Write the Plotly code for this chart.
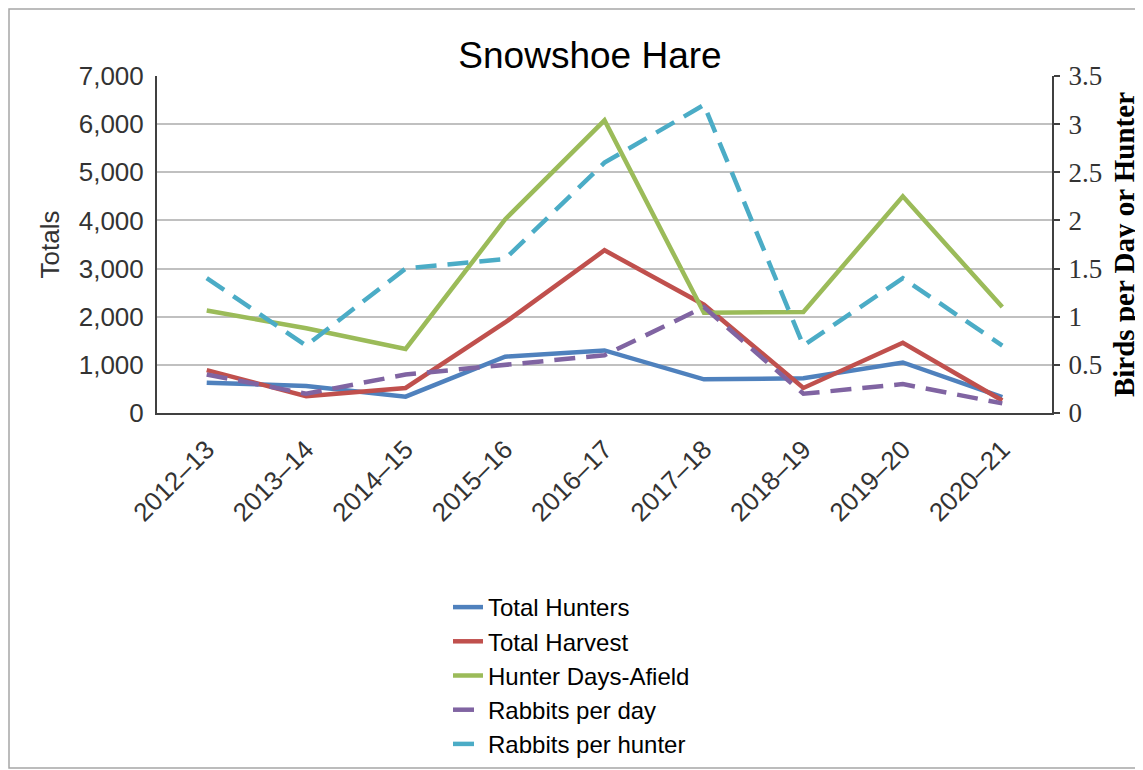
# Snowshoe Hare harvest chart

import plotly.graph_objects as go

seasons = ["2012–13", "2013–14", "2014–15", "2015–16", "2016–17",
           "2017–18", "2018–19", "2019–20", "2020–21"]

total_hunters = [630, 560, 340, 1170, 1300, 700, 720, 1050, 330]
total_harvest = [890, 350, 520, 1880, 3380, 2250, 520, 1460, 260]
hunter_days = [2130, 1760, 1330, 4020, 6080, 2080, 2100, 4500, 2200]
rabbits_per_day = [0.4, 0.2, 0.4, 0.5, 0.6, 1.1, 0.2, 0.3, 0.1]
rabbits_per_hunter = [1.4, 0.7, 1.5, 1.6, 2.6, 3.2, 0.7, 1.4, 0.7]

# page has an 8px body margin, so the figure is 8px smaller than the window
W, H = 1135, 762
L, R, T, B = 149, 91, 68, 357
pw, ph = W - L - R, H - T - B

fig = go.Figure()

solid = [("Total Hunters", total_hunters, "#4F81BD"),
         ("Total Harvest", total_harvest, "#C0504D"),
         ("Hunter Days-Afield", hunter_days, "#9BBB59")]
for name, vals, color in solid:
    fig.add_trace(go.Scatter(x=seasons, y=vals, mode="lines", name=name,
                             line=dict(color=color, width=4.5)))

dashed = [("Rabbits per day", rabbits_per_day, "#8064A2"),
          ("Rabbits per hunter", rabbits_per_hunter, "#4BACC6")]
for name, vals, color in dashed:
    fig.add_trace(go.Scatter(x=seasons, y=vals, mode="lines", name=name, yaxis="y2",
                             line=dict(color=color, width=4.5, dash="21px,11px")))

sans = "Liberation Sans, Arial"
serif = "Liberation Serif, Times New Roman"
tick_font = dict(family=sans, size=26, color="#333333")

fig.update_layout(
    width=W, height=H,
    margin=dict(l=L, r=R, t=T, b=B),
    paper_bgcolor="white",
    plot_bgcolor="white",
    title=dict(text="Snowshoe Hare", x=(582 - L) / pw, xref="paper", xanchor="center",
               y=1 - 47 / H, yref="container", yanchor="middle",
               font=dict(family=sans, size=37, color="black")),
    xaxis=dict(type="category", range=[-0.5, 8.5], tickangle=-45, tickfont=tick_font,
               showline=True, linecolor="#404040", linewidth=2, showgrid=False,
               ticks="", ticklabelstandoff=9, automargin=False),
    yaxis=dict(range=[0, 7000], dtick=1000, tickformat=",", tickfont=tick_font,
               showgrid=True, gridcolor="#C0C0C0", gridwidth=2, zeroline=False,
               showline=True, linecolor="#404040", linewidth=2, ticks="",
               ticklabelstandoff=6, automargin=False,
               title=dict(text="Totals", standoff=12,
                          font=dict(family=sans, size=26, color="#333333"))),
    yaxis2=dict(overlaying="y", side="right", range=[0, 3.5], dtick=0.5,
                showgrid=False, zeroline=False, showline=True, linecolor="#404040",
                linewidth=2, ticks="outside", ticklen=6, tickcolor="#404040", tickwidth=2,
                tickfont=dict(family=serif, size=27, color="#333333"),
                ticklabelstandoff=3, automargin=False,
                title=dict(text="<b>Birds per Day or Hunter</b>", standoff=13,
                           font=dict(family=serif, size=29, color="black"))),
    legend=dict(x=(440 - L) / pw, xref="paper", y=1 - 577 / H, yref="container",
                xanchor="left", yanchor="top",
                orientation="v", itemwidth=30, tracegroupgap=0,
                font=dict(family=sans, size=24, color="black"),
                bgcolor="rgba(0,0,0,0)"),
    shapes=[dict(type="rect", xref="paper", yref="paper",
                 x0=(1 - L) / pw, x1=(W - 2 - L) / pw,
                 y0=(T + ph - (H - 2)) / ph, y1=(T + ph - 1) / ph,
                 line=dict(color="#A6A6A6", width=1.5))],
)

fig.write_html("out.html")
